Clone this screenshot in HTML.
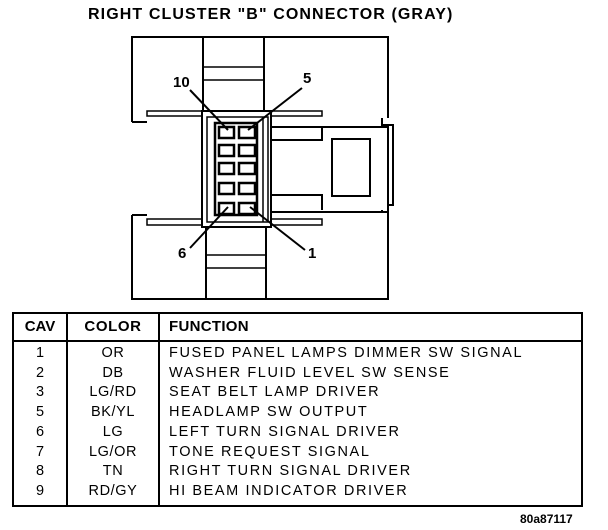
<!DOCTYPE html>
<html><head><style>
body{margin:0;background:#fff;width:608px;height:530px;position:relative;overflow:hidden;font-family:"Liberation Sans",Arial,sans-serif;color:#000}
.t{position:absolute;font-weight:bold;white-space:nowrap}
table{position:absolute;left:12px;top:312px;width:571px;border-collapse:collapse;border:2px solid #000;font-size:14.5px;letter-spacing:1.6px}
td,th{padding:0;line-height:19.7px}
th{border-bottom:2px solid #000;height:26px;font-size:15px;text-align:left;letter-spacing:0.3px}
.c1{width:52px;text-align:center;border-right:2px solid #000;letter-spacing:0}
.c2{width:90px;text-align:center;border-right:2px solid #000;letter-spacing:0.6px}
.c3{padding-left:9px}
tbody tr:first-child td{padding-top:2px}
tbody tr:last-child td{padding-bottom:3px}
</style></head><body>
<div class="t" style="left:88px;top:6px;font-size:16px;letter-spacing:1.1px">RIGHT CLUSTER "B" CONNECTOR (GRAY)</div>
<svg width="608" height="310" style="position:absolute;left:0;top:0" fill="none" stroke="#000" stroke-width="2">
<path d="M132 122V37H388V118"/>
<line x1="203" y1="37" x2="203" y2="111"/><line x1="264" y1="37" x2="264" y2="111"/>
<line x1="203" y1="67" x2="264" y2="67" stroke-width="1.5"/><line x1="203" y1="80" x2="264" y2="80" stroke-width="1.5"/>
<line x1="132" y1="122" x2="147" y2="122"/>
<rect x="147" y="111" width="175" height="5" stroke-width="1.5"/>
<path d="M132 215V299H388V213"/>
<line x1="206" y1="225" x2="206" y2="299"/><line x1="266" y1="225" x2="266" y2="299"/>
<line x1="206" y1="255" x2="266" y2="255" stroke-width="1.5"/><line x1="206" y1="268" x2="266" y2="268" stroke-width="1.5"/>
<line x1="132" y1="215" x2="147" y2="215"/>
<rect x="147" y="219" width="175" height="6" stroke-width="1.5"/>
<rect x="202" y="111" width="69" height="116" fill="#fff"/>
<rect x="207" y="117" width="61" height="105" stroke-width="1.5"/>
<line x1="263" y1="117" x2="263" y2="222" stroke-width="1.5"/>
<rect x="215" y="123" width="42" height="92" stroke-width="2.5"/>
<g stroke-width="2.5">
<rect x="219" y="127" width="15" height="11"/><rect x="239" y="127" width="16" height="11"/>
<rect x="219" y="145" width="15" height="11"/><rect x="239" y="145" width="16" height="11"/>
<rect x="219" y="163" width="15" height="11"/><rect x="239" y="163" width="16" height="11"/>
<rect x="219" y="183" width="15" height="11"/><rect x="239" y="183" width="16" height="11"/>
<rect x="219" y="203" width="15" height="11"/><rect x="239" y="203" width="16" height="11"/>
</g>
<rect x="271" y="127" width="117" height="85"/>
<rect x="332" y="139" width="38" height="57"/>
<path d="M271 140H322V127M271 195H322V210"/>
<path d="M382 118V125H393V205H388M382 213V210"/>
<line x1="190" y1="90" x2="228" y2="130"/>
<line x1="302" y1="88" x2="248" y2="130"/>
<line x1="190" y1="248" x2="228" y2="207"/>
<line x1="305" y1="250" x2="250" y2="207"/>
</svg>
<div class="t" style="left:173px;top:74px;font-size:15px">10</div>
<div class="t" style="left:303px;top:70px;font-size:15px">5</div>
<div class="t" style="left:178px;top:245px;font-size:15px">6</div>
<div class="t" style="left:308px;top:245px;font-size:15px">1</div>
<table>
<thead><tr><th class="c1" style="text-align:center">CAV</th><th class="c2" style="text-align:center">COLOR</th><th class="c3">FUNCTION</th></tr></thead>
<tbody>
<tr><td class="c1">1</td><td class="c2">OR</td><td class="c3">FUSED PANEL LAMPS DIMMER SW SIGNAL</td></tr>
<tr><td class="c1">2</td><td class="c2">DB</td><td class="c3">WASHER FLUID LEVEL SW SENSE</td></tr>
<tr><td class="c1">3</td><td class="c2">LG/RD</td><td class="c3">SEAT BELT LAMP DRIVER</td></tr>
<tr><td class="c1">5</td><td class="c2">BK/YL</td><td class="c3">HEADLAMP SW OUTPUT</td></tr>
<tr><td class="c1">6</td><td class="c2">LG</td><td class="c3">LEFT TURN SIGNAL DRIVER</td></tr>
<tr><td class="c1">7</td><td class="c2">LG/OR</td><td class="c3">TONE REQUEST SIGNAL</td></tr>
<tr><td class="c1">8</td><td class="c2">TN</td><td class="c3">RIGHT TURN SIGNAL DRIVER</td></tr>
<tr><td class="c1">9</td><td class="c2">RD/GY</td><td class="c3">HI BEAM INDICATOR DRIVER</td></tr>
</tbody></table>
<div class="t" style="left:520px;top:512px;font-size:12px">80a87117</div>
</body></html>
